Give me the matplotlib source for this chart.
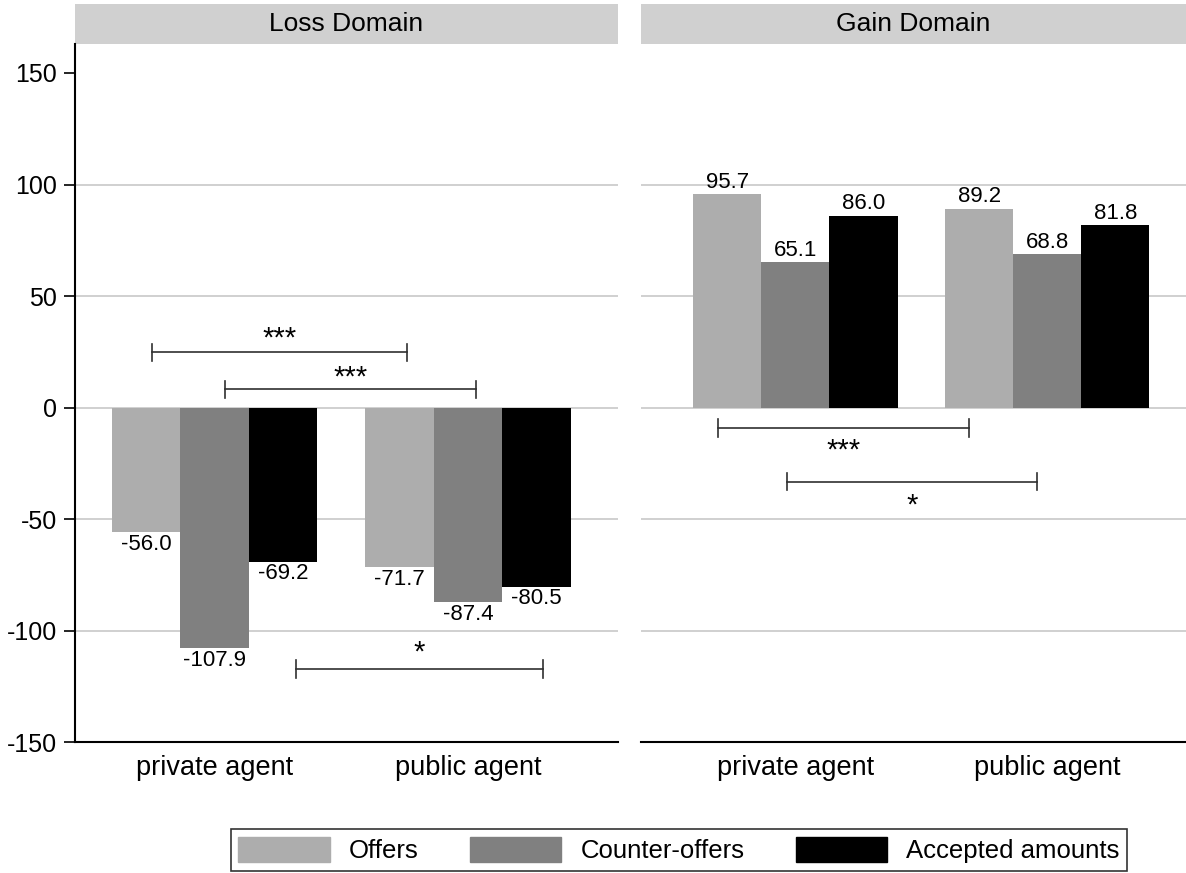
import matplotlib.pyplot as plt
import numpy as np
from matplotlib.patches import Patch, Rectangle

plt.rcParams['font.family'] = ['Liberation Sans', 'DejaVu Sans']
plt.rcParams['axes.unicode_minus'] = False

groups = ['private agent', 'public agent']
series = ['Offers', 'Counter-offers', 'Accepted amounts']
colors = ['#adadad', '#808080', '#000000']

loss = {
    'Offers': [-56.0, -71.7],
    'Counter-offers': [-107.9, -87.4],
    'Accepted amounts': [-69.2, -80.5],
}
gain = {
    'Offers': [95.7, 89.2],
    'Counter-offers': [65.1, 68.8],
    'Accepted amounts': [86.0, 81.8],
}

# significance brackets: (x0, x1, y, label, label_y)
loss_brackets = [(-0.247, 0.759, 24.7, '***', 31),
                 (0.041, 1.032, 8.1, '***', 13.5),
                 (0.321, 1.296, -117.2, '*', -110)]
gain_brackets = [(-0.308, 0.688, -9.0, '***', -19.5),
                 (-0.034, 0.958, -33.2, '*', -44)]

fig = plt.figure(figsize=(11.86, 8.73), dpi=100)
ax1 = fig.add_axes([75 / 1186, 0.150, 543 / 1186, 0.7996])
ax2 = fig.add_axes([641 / 1186, 0.150, 545 / 1186, 0.7996])

x = np.arange(len(groups))
w = 0.27


def draw(ax, data, brackets, title, xlim):
    for i, s in enumerate(series):
        bars = ax.bar(x + (i - 1) * w, data[s], w, color=colors[i], zorder=2)
        ax.bar_label(bars, fmt='%.1f', padding=1, fontsize=16)
    for v in [-100, -50, 0, 50, 100]:
        ax.axhline(v, color='#c8c8c8', lw=1.2, zorder=0)
    for x0, x1, y, lab, ly in brackets:
        ax.plot([x0, x1], [y, y], color='#303030', lw=1.2, zorder=3)
        ax.plot([x0, x0], [y - 4, y + 4], color='#303030', lw=1.2, zorder=3)
        ax.plot([x1, x1], [y - 4, y + 4], color='#303030', lw=1.2, zorder=3)
        ax.text((x0 + x1) / 2, ly, lab, ha='center', va='center',
                fontsize=21)
    ax.set_xlim(*xlim)
    ax.set_ylim(-150, 163)
    ax.set_xticks(x)
    ax.set_xticklabels(groups, fontsize=19.5)
    ax.tick_params(axis='x', length=0, pad=9)
    ax.spines['top'].set_visible(False)
    ax.spines['right'].set_visible(False)
    ax.spines['bottom'].set_linewidth(1.5)
    ax.add_patch(Rectangle((0, 1.0), 1, 0.0573, transform=ax.transAxes,
                           color='#d0d0d0', clip_on=False, lw=0))
    ax.text(0.5, 1.0287, title, transform=ax.transAxes, ha='center',
            va='center', fontsize=19)


draw(ax1, loss, loss_brackets, 'Loss Domain', (-0.550, 1.592))
draw(ax2, gain, gain_brackets, 'Gain Domain', (-0.613, 1.550))

ax1.set_yticks([-150, -100, -50, 0, 50, 100, 150])
ax1.tick_params(axis='y', labelsize=18, length=8, width=1.2, pad=5)
ax1.spines['left'].set_linewidth(1.5)

ax2.set_yticks([])
ax2.spines['left'].set_visible(False)

handles = [Patch(color=c, label=s) for c, s in zip(colors, series)]
leg = fig.legend(handles=handles, loc='center', ncol=3,
                 bbox_to_anchor=(679 / 1186, 23 / 873), fontsize=18.5,
                 handlelength=3.55, handleheight=1.1, columnspacing=2.0,
                 handletextpad=0.75, borderpad=0.3, fancybox=False,
                 frameon=True)
leg.get_frame().set_edgecolor('black')
leg.get_frame().set_linewidth(1.2)

fig.savefig('out.png', dpi=100)
